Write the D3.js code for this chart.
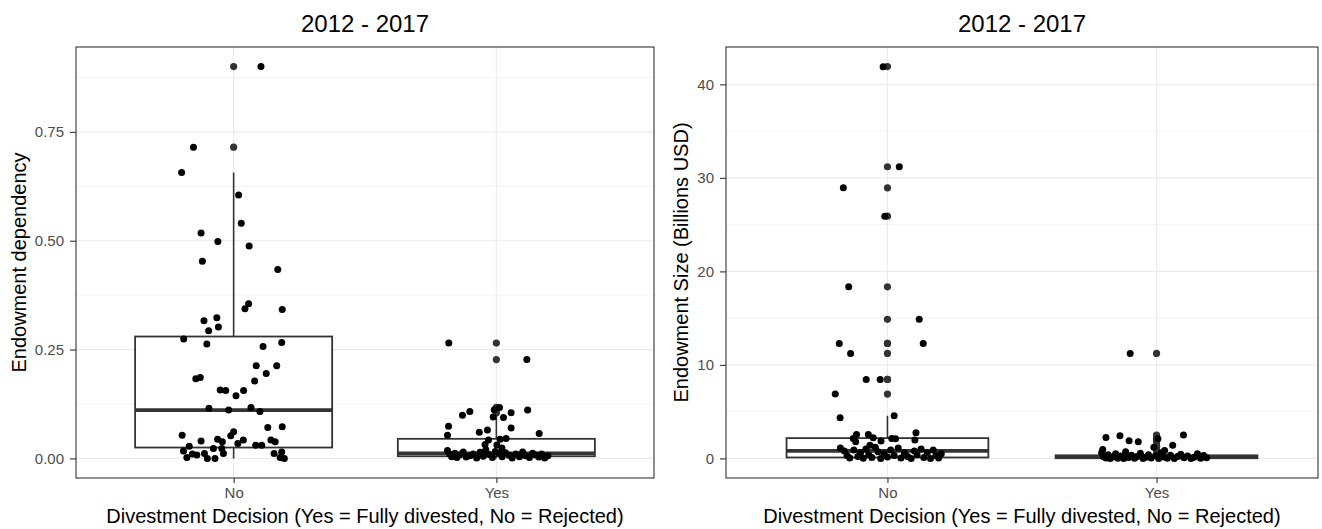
<!DOCTYPE html>
<html>
<head>
<meta charset="utf-8">
<script src="https://cdn.jsdelivr.net/npm/d3@7"></script>
<style>
  body { margin: 0; background: #fff; }
  svg { font-family: 'Liberation Sans', Arial, Helvetica, sans-serif; }
  .axis .tick text { fill: #4d4d4d; font-size: 15px; }
  .axis .tick line { stroke: #333333; stroke-width: 1.1; }
  .grid-major { stroke: #ebebeb; stroke-width: 1.2; }
  .grid-minor { stroke: #ebebeb; stroke-width: 0.6; }
  .panel-border { fill: none; stroke: #333333; stroke-width: 1.1; }
  .plot-title { font-size: 24px; fill: #000; }
  .axis-title { font-size: 20px; fill: #000; }
</style>
</head>
<body>
<svg id="chart" width="1322" height="529"></svg>
<script>
const categories = ['No', 'Yes'];
const plotTitle = '2012 - 2017';
const xTitle = 'Divestment Decision (Yes = Fully divested, No = Rejected)';

// Endowment dependency panel
const depTicks = [0, 0.25, 0.5, 0.75];
const depMinorTicks = [0.125, 0.375, 0.625, 0.875];
const depDomain = [0, 0.9];
// [lower whisker, q1, median, q3, upper whisker] per category
const depBoxStats = [
  [0, 0.025, 0.111, 0.28, 0.657],
  [0, 0.005, 0.012, 0.045, 0.099],
];
const depOutliers = [
  [0.9, 0.715],
  [0.265, 0.227, 0.117, 0.112, 0.108, 0.105],
];
// jittered points: [value, horizontal offset in category units]
const depPointsNo = [
  [0.9, 0.104], [0.715, -0.153], [0.657, -0.198], [0.605, 0.019], [0.54, 0.029],
  [0.518, -0.124], [0.498, -0.06], [0.488, 0.059], [0.453, -0.119], [0.434, 0.168],
  [0.355, 0.057], [0.344, 0.043], [0.342, 0.185], [0.323, -0.064], [0.316, -0.113],
  [0.302, -0.058], [0.293, -0.095], [0.274, -0.19], [0.266, 0.183], [0.263, -0.102],
  [0.257, 0.112], [0.213, 0.086], [0.213, 0.164], [0.195, 0.124], [0.186, -0.127],
  [0.183, -0.144], [0.178, 0.08], [0.157, -0.051], [0.156, -0.03], [0.156, 0.038],
  [0.144, 0.009], [0.115, -0.094], [0.111, -0.019], [0.117, 0.066], [0.108, 0.1],
  [0.071, 0.13], [0.073, 0.185], [0.053, -0.196], [0.061, 0.0], [0.052, -0.011],
  [0.04, -0.124], [0.044, -0.061], [0.038, -0.043], [0.034, 0.016], [0.042, 0.037],
  [0.042, 0.142], [0.038, 0.158], [0.03, 0.084], [0.03, 0.107], [0.028, -0.169],
  [0.017, -0.191], [0.023, -0.077], [0.011, -0.039], [0.011, -0.111], [0.002, -0.178],
  [0.01, -0.157], [0.008, -0.14], [0.0, -0.1], [0.0, -0.071], [0.023, -0.045],
  [0.011, 0.154], [0.015, 0.183], [0.002, 0.177], [0.0, 0.193],
];
const depPointsYes = [
  [0.265, -0.181], [0.227, 0.116], [0.117, 0.012], [0.112, -0.008], [0.111, 0.119],
  [0.108, -0.101], [0.105, 0.056], [0.099, -0.129], [0.095, -0.012], [0.094, 0.027],
  [0.074, -0.182], [0.07, 0.056], [0.065, -0.034], [0.06, -0.065], [0.057, 0.163],
  [0.053, -0.186], [0.046, 0.037], [0.044, 0.014], [0.042, -0.03], [0.032, -0.043],
  [0.031, 0.002], [0.024, 0.021],
  [0.018, -0.186], [0.01, -0.178], [0.004, -0.17], [0.012, -0.158], [0.002, -0.15],
  [0.008, -0.14], [0.015, -0.126], [0.003, -0.115], [0.006, -0.1], [0.01, -0.088],
  [0.001, -0.075], [0.014, -0.062], [0.005, -0.05], [0.02, -0.04], [0.009, -0.028],
  [0.002, -0.015], [0.016, -0.004], [0.011, 0.01], [0.004, 0.022], [0.013, 0.035],
  [0.007, 0.048], [0.001, 0.06], [0.01, 0.074], [0.004, 0.088], [0.015, 0.1],
  [0.006, 0.112], [0.002, 0.126], [0.012, 0.138], [0.008, 0.15], [0.003, 0.162],
  [0.01, 0.172], [0.001, 0.184], [0.006, 0.196],
];

// Endowment size panel
const sizeTicks = [0, 10, 20, 30, 40];
const sizeMinorTicks = [5, 15, 25, 35];
const sizeDomain = [0, 41.9];
const sizeBoxStats = [
  [0, 0.1, 0.81, 2.17, 4.56],
  [0, 0.02, 0.12, 0.33, 0.75],
];
const sizeOutliers = [
  [41.9, 31.19, 28.94, 25.9, 18.35, 14.87, 12.3, 12.3, 11.23, 8.45, 8.45, 6.88],
  [11.23, 2.49, 2.42, 2.24, 2.1, 1.88, 1.78, 1.42, 1.2, 0.96, 0.85],
];
const sizePointsNo = [
  [41.88, -0.016], [31.19, 0.044], [28.94, -0.164], [25.9, -0.01], [18.35, -0.144],
  [14.87, 0.118], [12.3, -0.179], [12.3, 0.133], [11.23, -0.137], [8.45, -0.079],
  [8.45, -0.027], [6.88, -0.194], [4.34, -0.176], [4.56, 0.025],
  [2.74, 0.106], [2.57, -0.115], [2.57, -0.071], [2.2, -0.053], [2.14, -0.127],
  [2.14, 0.016], [2.1, 0.03], [1.96, 0.102], [1.85, -0.024], [1.78, -0.118],
  [1.42, -0.065],
  [1.1, -0.175], [0.8, -0.16], [0.3, -0.15], [0.05, -0.14], [0.9, -0.125],
  [0.2, -0.11], [0.6, -0.1], [0.02, -0.09], [1.0, -0.08], [0.4, -0.07],
  [0.1, -0.058], [1.2, -0.045], [0.7, -0.035], [0.0, -0.025], [0.5, -0.012],
  [0.15, 0.0], [0.9, 0.012], [0.3, 0.025], [1.1, 0.04], [0.05, 0.05],
  [0.6, 0.063], [0.2, 0.075], [0.0, 0.088], [0.8, 0.1], [0.4, 0.11],
  [1.0, 0.125], [0.1, 0.135], [0.6, 0.148], [0.0, 0.16], [0.9, 0.17],
  [0.3, 0.18], [0.05, 0.19], [0.5, 0.2],
];
const sizePointsYes = [
  [11.23, -0.098], [2.49, 0.1], [2.42, -0.136], [2.24, -0.188], [2.1, 0.005],
  [1.88, -0.102], [1.78, -0.068], [1.42, 0.06], [1.2, -0.01], [0.96, -0.2],
  [0.85, 0.03],
  [0.6, -0.204], [0.2, -0.197], [0.05, -0.188], [0.4, -0.18], [0.0, -0.172],
  [0.15, -0.163], [0.5, -0.152], [0.03, -0.144], [0.25, -0.133], [0.0, -0.122],
  [0.7, -0.115], [0.1, -0.104], [0.35, -0.093], [0.02, -0.082], [0.2, -0.072],
  [0.55, -0.06], [0.0, -0.05], [0.12, -0.04], [0.4, -0.03], [0.05, -0.02],
  [0.28, -0.004], [0.0, 0.008], [0.6, 0.018], [0.15, 0.028], [0.03, 0.04],
  [0.33, 0.052], [0.0, 0.066], [0.2, 0.078], [0.45, 0.09], [0.06, 0.102],
  [0.25, 0.115], [0.0, 0.128], [0.12, 0.14], [0.5, 0.152], [0.02, 0.164],
  [0.3, 0.175], [0.08, 0.186],
];

class BoxJitter {
  constructor(_config, _data) {
    this.config = {
      parentElement: _config.parentElement,
      left: _config.left,
      right: _config.right,
      top: 47,
      bottom: 478,
      yTitle: _config.yTitle,
      yTitleX: _config.yTitleX,
      tickFormat: _config.tickFormat,
    };
    this.data = _data;
    this.initVis();
  }

  initVis() {
    let vis = this;
    vis.width = vis.config.right - vis.config.left;
    vis.height = vis.config.bottom - vis.config.top;

    // ggplot style expansion: 5% on continuous, 0.6 units on discrete
    let span = vis.data.domain[1] - vis.data.domain[0];
    vis.yScale = d3
      .scaleLinear()
      .domain([vis.data.domain[0] - span * 0.05, vis.data.domain[1] + span * 0.05])
      .range([vis.height, 0]);

    vis.xScale = d3
      .scalePoint()
      .domain(categories)
      .range([0, vis.width])
      .padding(0.6);
    vis.step = vis.xScale.step();

    vis.svg = d3.select(vis.config.parentElement);
    vis.chart = vis.svg
      .append('g')
      .attr('transform', `translate(${vis.config.left},${vis.config.top})`);

    vis.renderVis();
  }

  renderVis() {
    let vis = this;

    // grid
    vis.chart
      .selectAll('.grid-minor')
      .data(vis.data.minorTicks)
      .join('line')
      .attr('class', 'grid-minor')
      .attr('x1', 0)
      .attr('x2', vis.width)
      .attr('y1', (d) => vis.yScale(d))
      .attr('y2', (d) => vis.yScale(d));

    vis.chart
      .selectAll('.grid-major-y')
      .data(vis.data.ticks)
      .join('line')
      .attr('class', 'grid-major grid-major-y')
      .attr('x1', 0)
      .attr('x2', vis.width)
      .attr('y1', (d) => vis.yScale(d))
      .attr('y2', (d) => vis.yScale(d));

    vis.chart
      .selectAll('.grid-major-x')
      .data(categories)
      .join('line')
      .attr('class', 'grid-major grid-major-x')
      .attr('x1', (d) => vis.xScale(d))
      .attr('x2', (d) => vis.xScale(d))
      .attr('y1', 0)
      .attr('y2', vis.height);

    // boxes
    let half = vis.step * 0.375;
    let boxes = vis.chart
      .selectAll('.box')
      .data(vis.data.boxStats)
      .join('g')
      .attr('class', 'box')
      .attr('transform', (d, i) => `translate(${vis.xScale(categories[i])},0)`);

    boxes
      .append('line')
      .attr('x1', 0)
      .attr('x2', 0)
      .attr('y1', (d) => vis.yScale(d[0]))
      .attr('y2', (d) => vis.yScale(d[4]))
      .attr('stroke', '#333333')
      .attr('stroke-width', 1.6);

    boxes
      .append('rect')
      .attr('x', -half)
      .attr('width', half * 2)
      .attr('y', (d) => vis.yScale(d[3]))
      .attr('height', (d) => vis.yScale(d[1]) - vis.yScale(d[3]))
      .attr('fill', '#fff')
      .attr('stroke', '#333333')
      .attr('stroke-width', 1.8);

    boxes
      .append('line')
      .attr('x1', -half)
      .attr('x2', half)
      .attr('y1', (d) => vis.yScale(d[2]))
      .attr('y2', (d) => vis.yScale(d[2]))
      .attr('stroke', '#333333')
      .attr('stroke-width', 3.6);

    // outliers sit on the box centre
    let outliers = [];
    vis.data.outliers.forEach((arr, i) => {
      arr.forEach((v) => outliers.push({ cat: categories[i], value: v }));
    });
    vis.chart
      .selectAll('.outlier')
      .data(outliers)
      .join('circle')
      .attr('class', 'outlier')
      .attr('cx', (d) => vis.xScale(d.cat))
      .attr('cy', (d) => vis.yScale(d.value))
      .attr('r', 3.6)
      .attr('fill', '#333333');

    // jittered points
    let points = [];
    vis.data.points.forEach((arr, i) => {
      arr.forEach((p) => points.push({ cat: categories[i], value: p[0], offset: p[1] }));
    });
    vis.chart
      .selectAll('.dot')
      .data(points)
      .join('circle')
      .attr('class', 'dot')
      .attr('cx', (d) => vis.xScale(d.cat) + d.offset * vis.step)
      .attr('cy', (d) => vis.yScale(d.value))
      .attr('r', 3.5)
      .attr('fill', '#000');

    vis.chart
      .append('rect')
      .attr('class', 'panel-border')
      .attr('width', vis.width)
      .attr('height', vis.height);

    // axes
    let yAxis = d3
      .axisLeft(vis.yScale)
      .tickValues(vis.data.ticks)
      .tickFormat(vis.config.tickFormat)
      .tickSize(6)
      .tickPadding(6);
    let yAxisG = vis.chart.append('g').attr('class', 'axis').call(yAxis);
    yAxisG.select('.domain').remove();

    let xAxis = d3.axisBottom(vis.xScale).tickSize(5).tickPadding(4.5);
    let xAxisG = vis.chart
      .append('g')
      .attr('class', 'axis')
      .attr('transform', `translate(0,${vis.height})`)
      .call(xAxis);
    xAxisG.select('.domain').remove();
    vis.chart.selectAll('.axis').attr('font-family', null).attr('font-size', null);

    // titles
    vis.svg
      .append('text')
      .attr('class', 'plot-title')
      .attr('x', vis.config.left + vis.width / 2)
      .attr('y', 32)
      .attr('text-anchor', 'middle')
      .text(plotTitle);

    vis.svg
      .append('text')
      .attr('class', 'axis-title')
      .attr('x', vis.config.left + vis.width / 2)
      .attr('y', 523)
      .attr('text-anchor', 'middle')
      .text(xTitle);

    vis.svg
      .append('text')
      .attr('class', 'axis-title')
      .attr(
        'transform',
        `translate(${vis.config.yTitleX},${vis.config.top + vis.height / 2}) rotate(-90)`
      )
      .attr('text-anchor', 'middle')
      .text(vis.config.yTitle);
  }
}

new BoxJitter(
  {
    parentElement: '#chart',
    left: 76,
    right: 654,
    yTitle: 'Endowment dependency',
    yTitleX: 26,
    tickFormat: d3.format('.2f'),
  },
  {
    domain: depDomain,
    ticks: depTicks,
    minorTicks: depMinorTicks,
    boxStats: depBoxStats,
    outliers: depOutliers,
    points: [depPointsNo, depPointsYes],
  }
);

new BoxJitter(
  {
    parentElement: '#chart',
    left: 726,
    right: 1318,
    yTitle: 'Endowment Size (Billions USD)',
    yTitleX: 688,
    tickFormat: d3.format('d'),
  },
  {
    domain: sizeDomain,
    ticks: sizeTicks,
    minorTicks: sizeMinorTicks,
    boxStats: sizeBoxStats,
    outliers: sizeOutliers,
    points: [sizePointsNo, sizePointsYes],
  }
);
</script>
</body>
</html>
